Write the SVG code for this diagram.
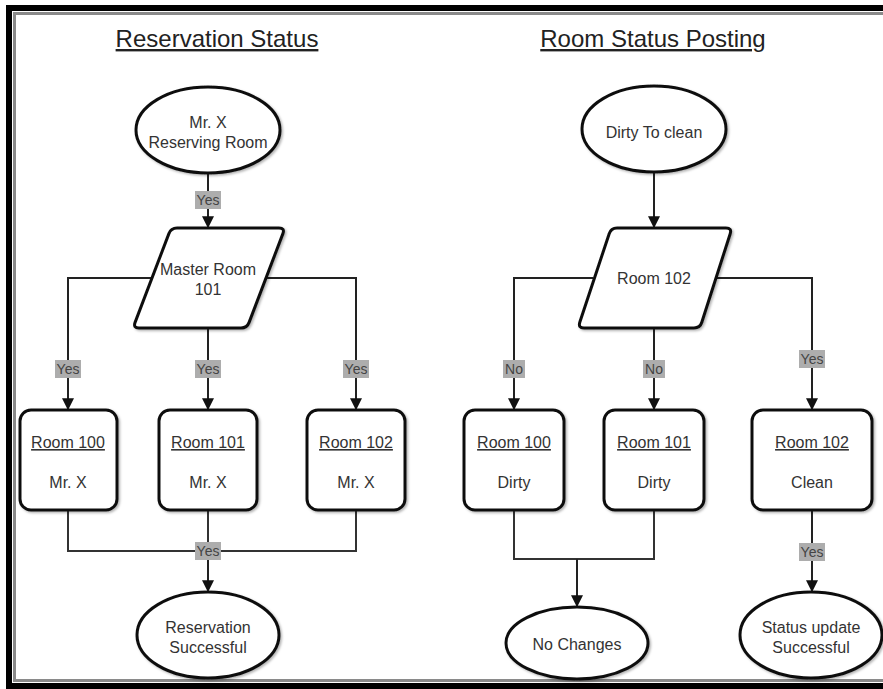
<svg xmlns="http://www.w3.org/2000/svg" width="883" height="689" viewBox="0 0 883 689">
<style>
.shape{fill:#fff;stroke:#111;stroke-width:3;stroke-linejoin:round;filter:url(#sh)}
.t{font-family:"Liberation Sans",Arial,sans-serif;font-size:16px;fill:#333;text-anchor:middle}
.title{font-family:"Liberation Sans",Arial,sans-serif;font-size:24px;fill:#222;text-anchor:middle;text-decoration:underline}
.u{text-decoration:underline}
.c{fill:none;stroke:#333;stroke-width:2}
.ca{fill:none;stroke:#222;stroke-width:2;marker-end:url(#ah)}
.lb{fill:#adadad}
.lt{font-family:"Liberation Sans",Arial,sans-serif;font-size:14px;fill:#444;text-anchor:middle}
</style>
<defs>
<marker id="ah" viewBox="0 0 10 10" refX="9" refY="5" markerWidth="6" markerHeight="6" markerUnits="strokeWidth" orient="auto">
<path d="M0,0 L10,5 L0,10 z" fill="#111"/>
</marker>
<filter id="sh" x="-10%" y="-10%" width="125%" height="125%">
<feDropShadow dx="1.5" dy="1.5" stdDeviation="1.2" flood-color="#000" flood-opacity="0.3"/>
</filter>
</defs>
<rect width="883" height="689" fill="#fff"/>
<g id="frame">
<rect x="9" y="8" width="900" height="678" fill="none" stroke="#000" stroke-width="6"/>
<rect x="14.5" y="13.5" width="900" height="667" fill="none" stroke="#8a8a8a" stroke-width="3"/>
</g>
<g id="titles">
<text class="title" x="217" y="47">Reservation Status</text>
<text class="title" x="653" y="47">Room Status Posting</text>
</g>
<g id="connectors">
<path class="ca" d="M208,173 V227"/>
<path class="ca" d="M151,278 H68 V409"/>
<path class="ca" d="M208,328 V409"/>
<path class="ca" d="M266,278 H356 V409"/>
<path class="c" d="M68,510 V551 H356 V510 M208,510 V551"/>
<path class="ca" d="M208,551 V591"/>
<path class="ca" d="M654,172 V227"/>
<path class="ca" d="M593,278 H514 V409"/>
<path class="ca" d="M654,328 V409"/>
<path class="ca" d="M716,278 H812 V409"/>
<path class="c" d="M514,510 V559 H654 V510"/>
<path class="ca" d="M577,559 V606"/>
<path class="ca" d="M812,510 V591"/>
<g id="labels">
<rect class="lb" x="195" y="191" width="26" height="18"/><text class="lt" x="208" y="205">Yes</text>
<rect class="lb" x="55" y="360" width="26" height="18"/><text class="lt" x="68" y="374">Yes</text>
<rect class="lb" x="195" y="360" width="26" height="18"/><text class="lt" x="208" y="374">Yes</text>
<rect class="lb" x="343" y="360" width="26" height="18"/><text class="lt" x="356" y="374">Yes</text>
<rect class="lb" x="195" y="542" width="26" height="18"/><text class="lt" x="208" y="556">Yes</text>
<rect class="lb" x="503" y="360" width="22" height="18"/><text class="lt" x="514" y="374">No</text>
<rect class="lb" x="643" y="360" width="22" height="18"/><text class="lt" x="654" y="374">No</text>
<rect class="lb" x="799" y="350" width="26" height="18"/><text class="lt" x="812" y="364">Yes</text>
<rect class="lb" x="799" y="543" width="26" height="18"/><text class="lt" x="812" y="557">Yes</text>
</g>
</g>
<g id="start1">
<ellipse class="shape" cx="208" cy="130" rx="72" ry="43"/>
<text class="t" x="208" y="128">Mr. X</text>
<text class="t" x="208" y="148">Reserving Room</text>
</g>
<g id="master">
<path class="shape" d="M177,228 H279 Q285,228 282.9,233.6 L249.1,322.4 Q247,328 241,328 H139 Q133,328 135.1,322.4 L168.9,233.6 Q171,228 177,228 Z"/>
<text class="t" x="208" y="275">Master Room</text>
<text class="t" x="208" y="295">101</text>
</g>
<g id="r100a">
<rect class="shape" x="20" y="410" width="97" height="100" rx="11"/>
<text class="t u" x="68" y="448">Room 100</text>
<text class="t" x="68" y="488">Mr. X</text>
</g>
<g id="r101a">
<rect class="shape" x="159" y="410" width="98" height="100" rx="11"/>
<text class="t u" x="208" y="448">Room 101</text>
<text class="t" x="208" y="488">Mr. X</text>
</g>
<g id="r102a">
<rect class="shape" x="307" y="410" width="98" height="100" rx="11"/>
<text class="t u" x="356" y="448">Room 102</text>
<text class="t" x="356" y="488">Mr. X</text>
</g>
<g id="end1">
<ellipse class="shape" cx="208" cy="635" rx="71" ry="43"/>
<text class="t" x="208" y="633">Reservation</text>
<text class="t" x="208" y="653">Successful</text>
</g>
<g id="start2">
<ellipse class="shape" cx="654" cy="129" rx="72" ry="43"/>
<text class="t" x="654" y="138">Dirty To clean</text>
</g>
<g id="room102q">
<path class="shape" d="M617,228 H726 Q732,228 730.2,233.7 L701.8,322.3 Q700,328 694,328 H584 Q578,328 579.8,322.3 L609.2,233.7 Q611,228 617,228 Z"/>
<text class="t" x="654" y="284">Room 102</text>
</g>
<g id="r100b">
<rect class="shape" x="464" y="410" width="100" height="100" rx="11"/>
<text class="t u" x="514" y="448">Room 100</text>
<text class="t" x="514" y="488">Dirty</text>
</g>
<g id="r101b">
<rect class="shape" x="604" y="410" width="100" height="100" rx="11"/>
<text class="t u" x="654" y="448">Room 101</text>
<text class="t" x="654" y="488">Dirty</text>
</g>
<g id="r102b">
<rect class="shape" x="752" y="410" width="120" height="100" rx="11"/>
<text class="t u" x="812" y="448">Room 102</text>
<text class="t" x="812" y="488">Clean</text>
</g>
<g id="nochange">
<ellipse class="shape" cx="577" cy="643" rx="71" ry="36"/>
<text class="t" x="577" y="650">No Changes</text>
</g>
<g id="end2">
<ellipse class="shape" cx="811" cy="635" rx="71" ry="43"/>
<text class="t" x="811" y="633">Status update</text>
<text class="t" x="811" y="653">Successful</text>
</g>
</svg>
